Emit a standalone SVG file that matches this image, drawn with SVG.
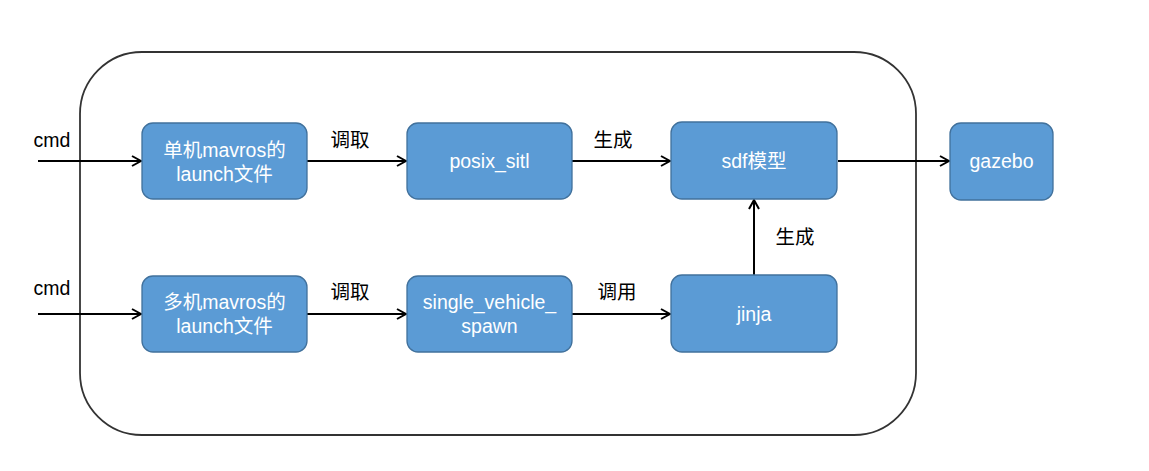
<svg xmlns="http://www.w3.org/2000/svg" width="1149" height="471" viewBox="0 0 1149 471">
<style>
  .box { fill: #5B9BD5; stroke: #41719C; stroke-width: 1.3; }
  .bt { fill: #FFFFFF; font-family: "Liberation Sans", Arial, "Noto Sans CJK SC", sans-serif; font-size: 19.5px; text-anchor: middle; }
  .lbl { fill: #000000; font-family: "Liberation Sans", Arial, "Noto Sans CJK SC", sans-serif; font-size: 19.5px; text-anchor: middle; }
  .edge { fill: none; stroke: #000000; stroke-width: 2; }
  .frame { fill: none; stroke: #333333; stroke-width: 1.8; }
</style>
<defs>
  <marker id="arr" markerUnits="userSpaceOnUse" markerWidth="12" markerHeight="14" refX="10" refY="6" orient="auto" viewBox="0 0 12 12">
    <path d="M1,1 L10,6 L1,11" fill="none" stroke="#000000" stroke-width="2"/>
  </marker>
</defs>
<rect width="1149" height="471" fill="#FFFFFF"/>
<g id="container">
  <rect class="frame" x="80" y="52" width="836" height="383" rx="62" ry="62"/>
</g>
<g id="connectors">
  <line class="edge" x1="38" y1="161" x2="141" y2="161" marker-end="url(#arr)"/>
  <line class="edge" x1="307" y1="161" x2="406" y2="161" marker-end="url(#arr)"/>
  <line class="edge" x1="572" y1="161" x2="670" y2="161" marker-end="url(#arr)"/>
  <line class="edge" x1="838" y1="161" x2="949" y2="161" marker-end="url(#arr)"/>
  <line class="edge" x1="38" y1="314" x2="141" y2="314" marker-end="url(#arr)"/>
  <line class="edge" x1="307" y1="314" x2="406" y2="314" marker-end="url(#arr)"/>
  <line class="edge" x1="572" y1="314" x2="670" y2="314" marker-end="url(#arr)"/>
  <line class="edge" x1="754" y1="276" x2="754" y2="200" marker-end="url(#arr)"/>
  <text class="lbl" x="52" y="147">cmd</text>
  <text class="lbl" x="350" y="147">调取</text>
  <text class="lbl" x="613" y="147">生成</text>
  <text class="lbl" x="52" y="295">cmd</text>
  <text class="lbl" x="350" y="299">调取</text>
  <text class="lbl" x="617" y="299">调用</text>
  <text class="lbl" x="795" y="244">生成</text>
</g>
<g id="single-launch">
  <rect class="box" x="142" y="123" width="165" height="76" rx="11" ry="11"/>
  <text class="bt" x="224.5" y="157">单机mavros的</text>
  <text class="bt" x="224.5" y="181">launch文件</text>
</g>
<g id="posix-sitl">
  <rect class="box" x="407" y="123" width="165" height="76" rx="11" ry="11"/>
  <text class="bt" x="489.5" y="168">posix_sitl</text>
</g>
<g id="sdf">
  <rect class="box" x="671" y="122" width="166" height="77" rx="11" ry="11"/>
  <text class="bt" x="754" y="168">sdf模型</text>
</g>
<g id="gazebo">
  <rect class="box" x="950" y="123" width="103" height="77" rx="11" ry="11"/>
  <text class="bt" x="1001.5" y="168">gazebo</text>
</g>
<g id="multi-launch">
  <rect class="box" x="142" y="276" width="165" height="76" rx="11" ry="11"/>
  <text class="bt" x="224.5" y="309">多机mavros的</text>
  <text class="bt" x="224.5" y="333">launch文件</text>
</g>
<g id="single-vehicle-spawn">
  <rect class="box" x="407" y="276" width="165" height="76" rx="11" ry="11"/>
  <text class="bt" x="489.5" y="309">single_vehicle_</text>
  <text class="bt" x="489.5" y="333">spawn</text>
</g>
<g id="jinja">
  <rect class="box" x="671" y="275" width="166" height="77" rx="11" ry="11"/>
  <text class="bt" x="754" y="321">jinja</text>
</g>
</svg>
